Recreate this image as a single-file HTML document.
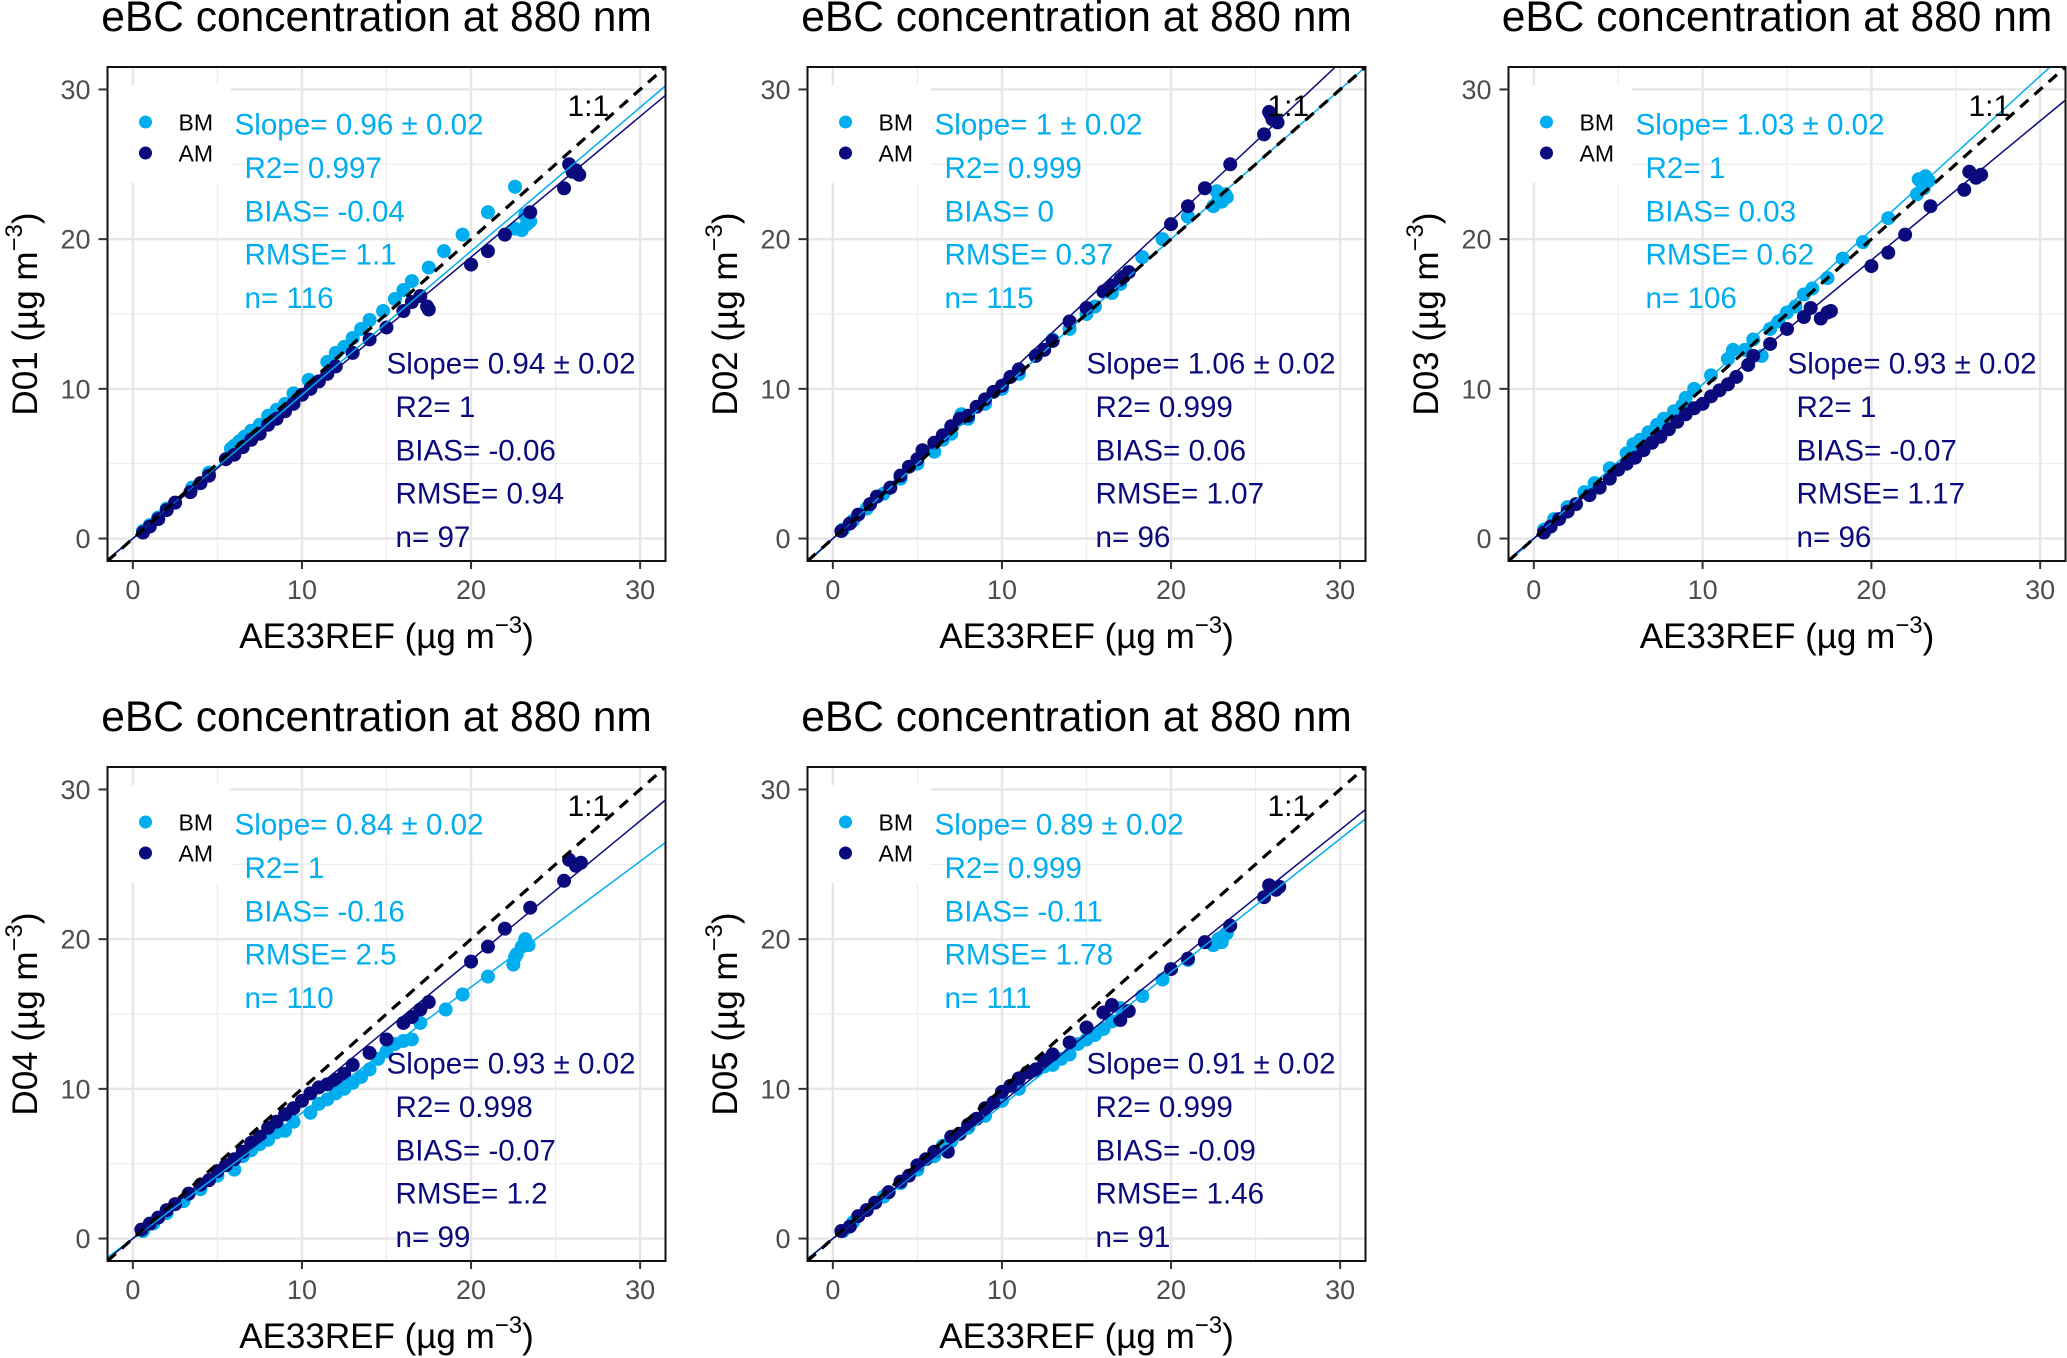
<!DOCTYPE html>
<html><head><meta charset="utf-8">
<style>
html,body{margin:0;padding:0;background:#fff;}
svg{display:block;font-family:"Liberation Sans",Arial,sans-serif;}
</style></head>
<body>
<svg id="fig" width="2067" height="1358" viewBox="0 0 2067 1358" xmlns="http://www.w3.org/2000/svg"></svg>
<script>
// ---------------- data ----------------
const panelNames = ["D01","D02","D03","D04","D05"];
const tickValues = [0,10,20,30];
const minorValues = [5,15,25];

const d01_bm_x = [0.6,1,1.5,2,3.5,4.5,5.8,6,6.3,6.6,7,7.5,8,8.5,9,9.5,10.4,11.5,12,12.5,13,13.5,14,14.8,15.5,16,16.5,17.5,18.4,19.5,21,22.6,22.6,23,23.3,23.2,23.5];
const d01_bm_y = [0.5,0.9,1.4,2,3.4,4.4,6,6.2,6.5,6.8,7.2,7.6,8.2,8.6,9,9.7,10.6,11.8,12.4,12.8,13.4,14,14.6,15.2,16,16.6,17.2,18.1,19.2,20.3,21.8,23.5,20.7,20.6,21,21.6,21.2];
const d01_am_x = [0.6,1,1.5,2,2.5,3.4,4,4.5,5.5,6,6.5,7,7.5,8,8.5,9,9.5,10,10.5,11,11.5,12,13,14,15,16,16.5,17,17.5,17.4,20,21,22,23.5,25.5,25.8,26,26.4,26.2];
const d01_am_y = [0.4,0.8,1.3,1.9,2.4,3.1,3.7,4.2,5.3,5.6,6.1,6.6,7,7.6,8,8.5,9,9.6,10,10.5,11,11.5,12.4,13.3,14.1,15.2,15.8,16.2,15.3,15.5,18.3,19.2,20.3,21.8,23.4,25,24.5,24.3,24.6];

const d02_bm_x = [0.6,1.2,2,3,4,5,6,6.5,7,7.6,8,9,10,11,12,13,14,15,15.5,16.5,17,18.3,19.5,21,22.5,22.7,23,23.3,23.2,22.8];
const d02_bm_y = [0.6,1.2,2,3,4,5,5.8,6.6,7,8.3,8,9,10,11,12.2,13.3,14,15,15.5,16.4,17,18.8,20,21.5,22.2,23.2,22.5,22.8,23,22.6];
const d02_am_x = [0.5,1,1.5,2.2,2.6,3.4,4,4.5,5,5.3,6,6.5,7,7.5,8,8.5,9,9.5,10,10.5,11,12,12.5,13,14,15,16,16.5,17,17.5,17.2,20,21,22,23.5,25.5,25.8,26,26.3,25.9];
const d02_am_y = [0.5,1,1.6,2.3,2.8,3.4,4.2,4.8,5.3,5.9,6.4,6.9,7.5,8,8.2,8.8,9.3,9.8,10.2,10.8,11.3,12.2,12.6,13.2,14.5,15.4,16.5,16.9,17.3,17.8,17.5,21,22.2,23.4,25,27,28.5,28,27.8,28.3];

const d03_bm_x = [0.6,1.2,2,3,3.6,4.5,5.5,5.9,6.3,6.8,7.3,7.7,8.3,8.8,9,9.5,10.5,11.5,11.8,12.5,13,13.5,14,14.5,15,15.5,16,16.5,17.4,18.3,19.5,21,22.7,22.8,23,23.2,23.4,23.1];
const d03_bm_y = [0.6,1.3,2.1,3.1,3.7,4.7,5.7,6.3,6.6,7.1,7.6,8,8.5,8.9,9.4,10,10.9,12,12.6,12.6,13.3,12.2,14,14.5,15.1,15.5,16.3,16.7,17.4,18.7,19.8,21.4,23,24,23.7,24.2,23.9,23.4];
const d03_am_x = [0.6,1,1.5,2,2.5,3.3,3.9,4.5,5,5.5,6,6.5,7,7.5,8,8.5,9,9.5,10,10.5,11,11.5,12,12.7,13,14,15,16,16.4,17,17.4,17.6,20,21,22,23.5,25.5,25.8,26.2,26.5];
const d03_am_y = [0.4,0.8,1.3,1.8,2.3,2.9,3.4,4,4.6,5,5.4,5.9,6.4,6.8,7.3,7.8,8.3,8.7,9,9.5,9.9,10.3,10.8,11.6,12.2,13,14,14.8,15.4,14.7,15.1,15.2,18.2,19.1,20.3,22.2,23.3,24.5,24.1,24.3];

const d04_bm_x = [0.6,1.2,2,3,4,5,6,6.5,7,7.5,8,8.5,9,9.5,10.5,11,11.5,12,12.5,13,13.5,14,14.5,15,15.5,16,16.5,17,18.5,19.5,21,22.5,22.7,23,23.2,23.4,22.6];
const d04_bm_y = [0.5,1,1.7,2.5,3.3,4.2,4.6,5.5,5.9,6.3,6.6,7.1,7.2,7.8,8.4,9,9.3,9.7,10,10.4,10.8,11.3,12,12.5,13,13.2,13.3,14.4,15.3,16.3,17.5,18.3,19,19.5,20,19.6,18.8];
const d04_am_x = [0.5,1,1.5,2,2.5,3.3,4,4.5,5,5.5,6,6.5,7,7.5,8,8.5,9,9.5,10,10.5,11,11.5,12,12.5,13,14,15,16,16.5,17,17.5,20,21,22,23.5,25.5,25.8,26.2,26.5];
const d04_am_y = [0.6,1,1.4,1.9,2.3,3,3.6,3.9,4.5,4.9,5.3,5.8,6.4,6.8,7.4,7.8,8.3,8.7,9.2,9.7,10.1,10.3,10.6,11,11.6,12.4,13.3,14.4,14.8,15.3,15.8,18.5,19.5,20.7,22.1,23.9,25.3,24.9,25.1];

const d05_bm_x = [0.6,1.2,2,3,4,5,6,6.5,7,8,9,10,11,12,12.5,13,13.5,14,14.5,15,15.5,16,16.5,17,18.3,19.5,21,22.5,22.8,23,23.3,23.1];
const d05_bm_y = [0.5,1.1,1.9,2.8,3.7,4.6,5.5,6.2,6.5,7.4,8.2,9.2,10,11.2,11.5,11.6,12,12.3,13,13.3,13.6,14,14.5,15.4,16.2,17.3,18.6,19.6,20,19.8,20.4,20.2];
const d05_am_x = [0.5,1,1.5,2,2.5,3.3,4,4.5,5,5.5,6,6.8,7,7.5,8,8.5,9,9.5,10,10.5,11,11.5,12,12.5,13,14,15,16,16.5,17,17.5,20,21,22,23.5,25.5,25.8,26.2,26.4];
const d05_am_y = [0.5,0.8,1.5,1.9,2.4,3.1,3.8,4.2,4.9,5.3,5.8,5.8,6.8,7,7.6,8,8.7,9.1,9.8,10.2,10.7,11.1,11.3,11.9,12.3,13.1,14.1,15.1,15.6,14.6,15.2,18,18.7,19.8,20.9,22.8,23.6,23.3,23.5];

const bmSlopes = [0.96,1,1.03,0.84,0.89];
const amSlopes = [0.94,1.06,0.93,0.93,0.91];
const bmStats = [
 ["Slope= 0.96 ± 0.02","R2= 0.997","BIAS= -0.04","RMSE= 1.1","n= 116"],
 ["Slope= 1 ± 0.02","R2= 0.999","BIAS= 0","RMSE= 0.37","n= 115"],
 ["Slope= 1.03 ± 0.02","R2= 1","BIAS= 0.03","RMSE= 0.62","n= 106"],
 ["Slope= 0.84 ± 0.02","R2= 1","BIAS= -0.16","RMSE= 2.5","n= 110"],
 ["Slope= 0.89 ± 0.02","R2= 0.999","BIAS= -0.11","RMSE= 1.78","n= 111"]];
const amStats = [
 ["Slope= 0.94 ± 0.02","R2= 1","BIAS= -0.06","RMSE= 0.94","n= 97"],
 ["Slope= 1.06 ± 0.02","R2= 0.999","BIAS= 0.06","RMSE= 1.07","n= 96"],
 ["Slope= 0.93 ± 0.02","R2= 1","BIAS= -0.07","RMSE= 1.17","n= 96"],
 ["Slope= 0.93 ± 0.02","R2= 0.998","BIAS= -0.07","RMSE= 1.2","n= 99"],
 ["Slope= 0.91 ± 0.02","R2= 0.999","BIAS= -0.09","RMSE= 1.46","n= 91"]];
const bmXs=[d01_bm_x,d02_bm_x,d03_bm_x,d04_bm_x,d05_bm_x];
const bmYs=[d01_bm_y,d02_bm_y,d03_bm_y,d04_bm_y,d05_bm_y];
const amXs=[d01_am_x,d02_am_x,d03_am_x,d04_am_x,d05_am_x];
const amYs=[d01_am_y,d02_am_y,d03_am_y,d04_am_y,d05_am_y];

// ---------------- layout ----------------
const CYAN="#00adee", NAVY="#0a0a7c";
const DMIN=-1.5, DMAX=31.5;
const offs=[[0,0],[700,0],[1401,0],[0,700],[700,700]];
const svg=document.getElementById('fig');
const NS="http://www.w3.org/2000/svg";
function mk(tag,attrs,parent){const e=document.createElementNS(NS,tag);for(const k in attrs)e.setAttribute(k,attrs[k]);(parent||svg).appendChild(e);return e;}

panelNames.forEach((nm,p)=>{
  const ox=offs[p][0], oy=offs[p][1];
  const L=ox+107.5, T=oy+67, W=(p===2?557:558), H=494;
  const sx=v=>L+(v-DMIN)/(DMAX-DMIN)*W;
  const sy=v=>T+H-(v-DMIN)/(DMAX-DMIN)*H;
  const g=mk('g',{});
  
  

  const title=mk('text',{x:L+W/2-10,y:oy+31,'font-size':42.5,'text-anchor':'middle',fill:'#000'},g);
  title.textContent="eBC concentration at 880 nm";
  
  

  const clipId='clip'+p;
  const cp=mk('clipPath',{id:clipId},g);
  mk('rect',{x:L,y:T,width:W,height:H},cp);
  const plot=mk('g',{'clip-path':'url(#'+clipId+')'},g);
  
  

  minorValues.forEach(v=>{
    const a=mk('line',{x1:sx(v),x2:sx(v),y1:T,y2:T+H,stroke:'#ececec','stroke-width':1.2},plot);
    
    
    const b=mk('line',{x1:L,x2:L+W,y1:sy(v),y2:sy(v),stroke:'#ececec','stroke-width':1.2},plot);
    
    
  });
  tickValues.forEach(v=>{
    const a=mk('line',{x1:sx(v),x2:sx(v),y1:T,y2:T+H,stroke:'#e6e6e6','stroke-width':2.4},plot);
    
    
    const b=mk('line',{x1:L,x2:L+W,y1:sy(v),y2:sy(v),stroke:'#e6e6e6','stroke-width':2.4},plot);
    
    
  });
  const lb=mk('rect',{x:L,y:T+18,width:123,height:98,fill:'#fff'},plot);
  
  

  bmXs[p].forEach((x,i)=>{
    const c=mk('circle',{cx:sx(x),cy:sy(bmYs[p][i]),r:7,fill:CYAN},plot);
    
    
  });
  amXs[p].forEach((x,i)=>{
    const c=mk('circle',{cx:sx(x),cy:sy(amYs[p][i]),r:7,fill:NAVY},plot);
    
    
  });
  const f1=mk('line',{x1:sx(DMIN),y1:sy(DMIN*bmSlopes[p]),x2:sx(DMAX),y2:sy(DMAX*bmSlopes[p]),stroke:CYAN,'stroke-width':1.5},plot);
  
  
  const f2=mk('line',{x1:sx(DMIN),y1:sy(DMIN*amSlopes[p]),x2:sx(DMAX),y2:sy(DMAX*amSlopes[p]),stroke:NAVY,'stroke-width':1.5},plot);
  
  
  const oo=mk('line',{x1:sx(DMIN),y1:sy(DMIN),x2:sx(DMAX),y2:sy(DMAX),stroke:'#000','stroke-width':3.2,'stroke-dasharray':'11 8'},plot);
  
  

  const br=mk('rect',{x:L,y:T,width:W,height:H,fill:'none',stroke:'#111','stroke-width':2},g);
  
  

  tickValues.forEach(v=>{
    const tx=mk('line',{x1:sx(v),x2:sx(v),y1:T+H,y2:T+H+8,stroke:'#333','stroke-width':2},g);
    
    
    const lx=mk('text',{x:sx(v),y:T+H+38,'font-size':27,'text-anchor':'middle',fill:'#4d4d4d'},g);
    lx.textContent=v;
    
    
    const ty=mk('line',{x1:L-9,x2:L,y1:sy(v),y2:sy(v),stroke:'#333','stroke-width':2},g);
    
    
    const ly=mk('text',{x:L-17,y:sy(v)+9.5,'font-size':27,'text-anchor':'end',fill:'#4d4d4d'},g);
    ly.textContent=v;
    
    
  });

  const xt=mk('text',{x:L+W/2,y:oy+648,'font-size':35,'text-anchor':'middle',fill:'#000'},g);
  
  
  xt.innerHTML='AE33REF (µg m<tspan dy="-15" font-size="24">−3</tspan><tspan dy="15">)</tspan>';
  const yt=mk('text',{x:0,y:0,'font-size':35,'text-anchor':'middle',fill:'#000',transform:'translate('+(ox+37)+','+(oy+314)+') rotate(-90)'},g);
  
  
  yt.innerHTML=nm+' (µg m<tspan dy="-15" font-size="24">−3</tspan><tspan dy="15">)</tspan>';

  [['BM',CYAN,55],['AM',NAVY,86]].forEach(([lab,col,dy])=>{
    const c=mk('circle',{cx:L+38,cy:T+dy,r:6.5,fill:col},g);
    
    
    const t=mk('text',{x:L+71,y:T+dy+8.5,'font-size':23,fill:'#000'},g);
    t.textContent=lab;
    
    
  });

  const ol=mk('text',{x:L+460,y:T+49,'font-size':30,fill:'#000'},g);
  ol.textContent='1:1';
  
  

  bmStats[p].forEach((s,i)=>{
    const t=mk('text',{x:L+(i===0?127:137),y:T+57+i*43.4+10.5,'font-size':29.6,fill:CYAN},g);
    t.textContent=s;
    
    
  });
  amStats[p].forEach((s,i)=>{
    const t=mk('text',{x:L+(i===0?279:288),y:T+296+i*43.4+10.5,'font-size':29.6,fill:NAVY},g);
    t.textContent=s;
    
    
  });
});
</script>
</body></html>
